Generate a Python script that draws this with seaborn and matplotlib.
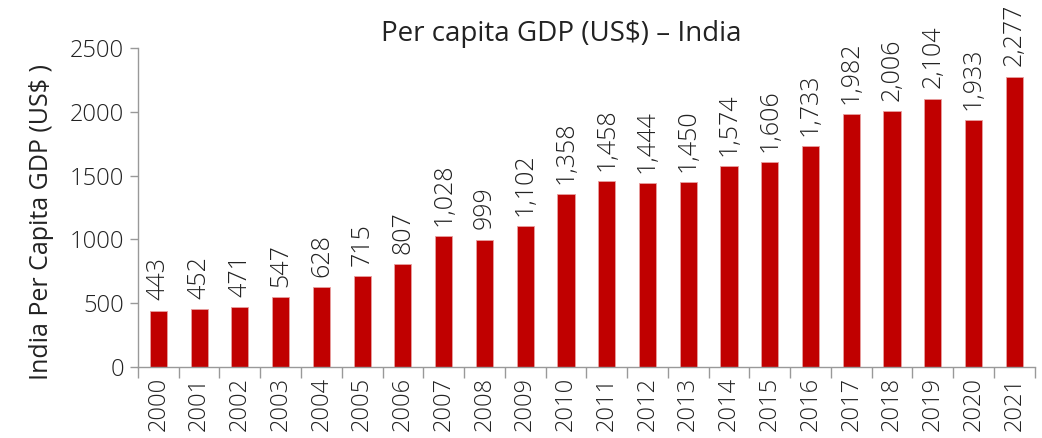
import numpy as np
import pandas as pd
import matplotlib
matplotlib.use("Agg")
import matplotlib.pyplot as plt
from matplotlib.ticker import FixedLocator
import seaborn as sns

# data
years = [str(y) for y in range(2000, 2022)]
gdp = [443, 452, 471, 547, 628, 715, 807, 1028, 999, 1102, 1358,
       1458, 1444, 1450, 1574, 1606, 1733, 1982, 2006, 2104, 1933, 2277]

sns.set_theme(style="white")
plt.rcParams["font.family"] = ["Open Sans", "DejaVu Sans"]
plt.rcParams["font.weight"] = "light"

df = pd.DataFrame({"year": years, "gdp": gdp})

fig = plt.figure(figsize=(10.42, 4.38), dpi=100)
ax = fig.add_axes([0.1324, 0.162, 0.8606, 0.728])

sns.barplot(data=df, x="year", y="gdp", color="#C00000", width=0.42,
            saturation=1, ax=ax, edgecolor="#E8A0A0", linewidth=0.6)

# value labels above each bar
for i, v in enumerate(gdp):
    ax.text(i, v + 80, f"{v:,}", rotation=90, ha="center", va="bottom",
            fontsize=18, color="#222222")

ax.set_xlim(-0.5, len(years) - 0.5)
ax.set_ylim(0, 2500)
ax.set_yticks([0, 500, 1000, 1500, 2000, 2500])
ax.tick_params(axis="y", labelsize=17, color="#999999", labelcolor="#222222",
               length=6, width=1, left=True, direction="out", pad=4)
ax.tick_params(axis="x", which="major", labelsize=17, labelrotation=90,
               length=0, labelcolor="#222222", pad=7)
ax.xaxis.set_minor_locator(FixedLocator(np.arange(-0.5, len(years), 1.0)))
ax.tick_params(axis="x", which="minor", bottom=True, length=8, width=1,
               color="#999999", direction="out")

for s in ["top", "right"]:
    ax.spines[s].set_visible(False)
for s in ["left", "bottom"]:
    ax.spines[s].set_color("#999999")
    ax.spines[s].set_linewidth(1)

ax.set_xlabel("")
ax.set_ylabel("India Per Capita GDP (US$ )", fontsize=18, color="#222222")
ax.yaxis.set_label_coords(-0.094, 0.455)
ax.set_title("Per capita GDP (US$) \u2013 India", fontsize=20, color="#222222",
             pad=5, x=0.472)

fig.savefig("out.png", dpi=100)
